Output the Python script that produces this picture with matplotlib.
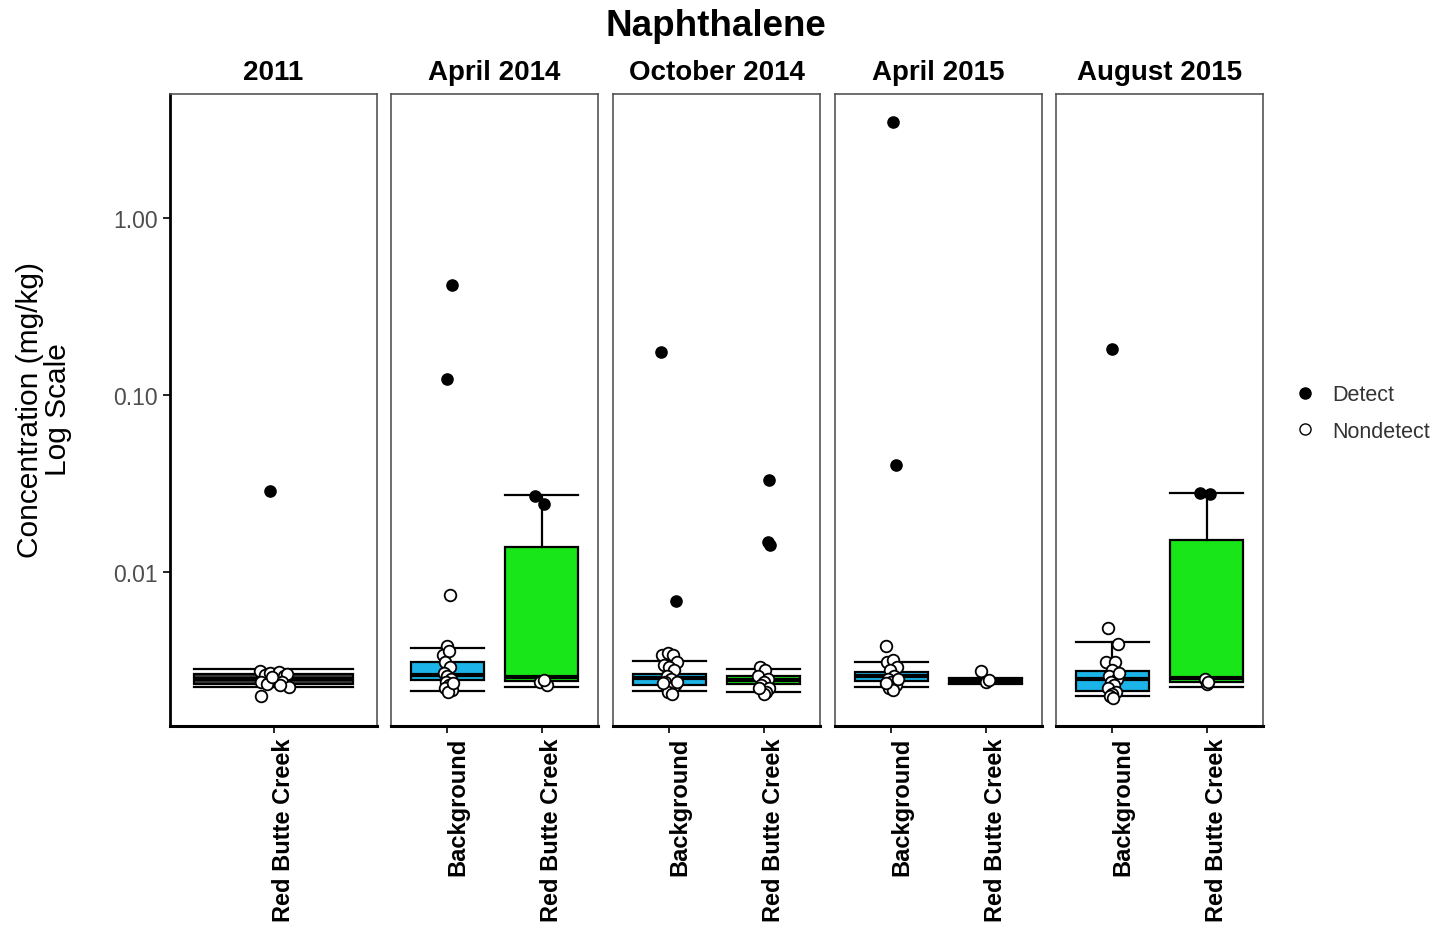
import numpy as np
import matplotlib
matplotlib.use('Agg')
import matplotlib.pyplot as plt
import matplotlib.transforms as mtransforms
from matplotlib.lines import Line2D

plt.rcParams['font.family'] = ['Liberation Sans', 'DejaVu Sans']

# sampling events and the groups in each
periods = ['2011', 'April 2014', 'October 2014', 'April 2015', 'August 2015']
groups = [['Red Butte Creek'],
          ['Background', 'Red Butte Creek'],
          ['Background', 'Red Butte Creek'],
          ['Background', 'Red Butte Creek'],
          ['Background', 'Red Butte Creek']]

# box stats per group: lower cap, q1, median, q3, upper cap (mg/kg)
box_stats = [
    [[0.00224, 0.00233, 0.00250, 0.00265, 0.00283]],
    [[0.00213, 0.00245, 0.00262, 0.00310, 0.00373],
     [0.00224, 0.00243, 0.00255, 0.01380, 0.02720]],
    [[0.00213, 0.00230, 0.00252, 0.00265, 0.00314],
     [0.00210, 0.00233, 0.00246, 0.00259, 0.00283]],
    [[0.00224, 0.00242, 0.00259, 0.00272, 0.00310],
     [0.00234, 0.00236, 0.00242, 0.00248, 0.00251]],
    [[0.00198, 0.00212, 0.00250, 0.00276, 0.00403],
     [0.00224, 0.00240, 0.00252, 0.01520, 0.02790]],
]
box_colors = [['#3a3a3a'],
              ['#1cb4e8', '#19e619'],
              ['#1cb4e8', '#19e619'],
              ['#1cb4e8', '#19e619'],
              ['#1cb4e8', '#19e619']]

# detected samples: (jitter offset, value)
detect = [
    [[(-0.02, 0.0287)]],
    [[(0.05, 0.418), (-0.01, 0.123)],
     [(-0.07, 0.0270), (0.03, 0.0242)]],
    [[(-0.09, 0.175), (0.07, 0.00685)],
     [(0.06, 0.0331), (0.05, 0.0148), (0.07, 0.0142)]],
    [[(0.02, 3.49), (0.05, 0.0403)],
     []],
    [[(0.0, 0.182)],
     [(-0.07, 0.0280), (0.04, 0.0275)]],
]

# nondetects (reporting limits): (jitter offset, value)
nondetect = [
    [[(-0.08, 0.00275), (-0.05, 0.00262), (-0.02, 0.00268), (0.0, 0.00250),
      (0.03, 0.00272), (0.06, 0.00260), (0.08, 0.00265), (-0.07, 0.00240),
      (-0.04, 0.00232), (0.05, 0.00238), (0.09, 0.00224), (-0.07, 0.00200),
      (0.04, 0.00230), (-0.01, 0.00255)]],
    [[(-0.01, 0.0038), (-0.05, 0.0034), (0.02, 0.0036), (-0.03, 0.0031),
      (0.03, 0.0029), (-0.04, 0.0027), (0.0, 0.0026), (0.04, 0.0025),
      (-0.02, 0.0024), (0.02, 0.0023), (-0.03, 0.0022), (0.05, 0.00215),
      (0.01, 0.0021), (0.06, 0.00235), (0.03, 0.0074)],
     [(-0.02, 0.0024), (0.06, 0.0023), (0.03, 0.00245)]],
    [[(-0.08, 0.0034), (-0.02, 0.0035), (0.04, 0.0034), (0.08, 0.0031),
      (-0.06, 0.0030), (0.0, 0.0029), (0.05, 0.0028), (-0.03, 0.0026),
      (0.02, 0.0025), (-0.05, 0.0024), (0.06, 0.0023), (0.0, 0.0022),
      (-0.02, 0.0021), (0.03, 0.00205), (-0.07, 0.00235), (0.08, 0.0024)],
     [(-0.04, 0.0029), (0.02, 0.0028), (-0.06, 0.0026), (0.05, 0.0025),
      (0.0, 0.0024), (-0.03, 0.0023), (0.06, 0.0022), (0.03, 0.0021),
      (0.0, 0.00205), (-0.05, 0.0022)]],
    [[(-0.06, 0.0038), (-0.05, 0.0031), (0.02, 0.0032), (0.06, 0.0029),
      (-0.02, 0.0028), (0.03, 0.0026), (-0.04, 0.0025), (0.0, 0.0024),
      (0.05, 0.0023), (-0.03, 0.0022), (0.02, 0.00215), (-0.06, 0.00235),
      (0.07, 0.0025)],
     [(-0.05, 0.00276), (0.0, 0.0024), (0.04, 0.00245)]],
    [[(-0.05, 0.0048), (0.06, 0.0039), (-0.07, 0.0031), (0.03, 0.0031),
      (0.0, 0.0028), (-0.04, 0.0026), (0.05, 0.0025), (-0.02, 0.0024),
      (0.02, 0.0023), (-0.05, 0.0022), (0.04, 0.0021), (0.0, 0.00205),
      (-0.03, 0.0020), (0.01, 0.00195), (0.07, 0.0027)],
     [(-0.02, 0.0025), (0.0, 0.00232), (0.02, 0.0024)]],
]

W, H = 1441, 928
fig = plt.figure(figsize=(W / 100, H / 100), dpi=100)

panel_left = [170, 391, 613, 835, 1056]
panel_w = 207
top_px, bot_px = 95, 727
# ggplot puts the rotated labels a little right of the tick
shift = mtransforms.ScaledTranslation(10 / 100, 0, fig.dpi_scale_trans)

for i, period in enumerate(periods):
    ax = fig.add_axes([panel_left[i] / W, 1 - bot_px / H,
                       panel_w / W, (bot_px - top_px) / H])
    cats = groups[i]
    n = len(cats)
    pos = np.arange(1, n + 1)
    bw = 0.92 if n == 1 else 0.77

    stats = []
    for s in box_stats[i]:
        stats.append(dict(whislo=s[0], q1=s[1], med=s[2], q3=s[3], whishi=s[4], fliers=[]))
    bp = ax.bxp(stats, positions=pos, widths=bw, capwidths=bw,
                patch_artist=True, showfliers=False,
                boxprops=dict(edgecolor='black', linewidth=1.6),
                medianprops=dict(color='black', linewidth=3.0),
                whiskerprops=dict(color='black', linewidth=1.6),
                capprops=dict(color='black', linewidth=1.6))
    for patch, c in zip(bp['boxes'], box_colors[i]):
        patch.set_facecolor(c)

    for j in range(n):
        if nondetect[i][j]:
            xo, v = zip(*nondetect[i][j])
            ax.scatter(pos[j] + np.array(xo), v, s=70, facecolors='white',
                       edgecolors='black', linewidths=1.3, zorder=4)
        if detect[i][j]:
            xo, v = zip(*detect[i][j])
            ax.scatter(pos[j] + np.array(xo), v, s=65, color='black', zorder=5)

    ax.set_yscale('log')
    ax.set_ylim(10 ** -2.87, 10 ** 0.70)
    ax.set_xlim(0.4, n + 0.6)
    ax.set_xticks(pos)
    ax.set_xticklabels(cats, rotation=90, fontsize=17, fontweight='bold')
    ax.tick_params(axis='x', length=5, width=1.2, color='black', pad=3)
    for lab in ax.get_xticklabels():
        lab.set_transform(lab.get_transform() + shift)
    ax.minorticks_off()
    if i == 0:
        ax.set_yticks([0.01, 0.1, 1.0])
        ax.set_yticklabels(['0.01', '0.10', '1.00'], fontsize=16.5, color='#4d4d4d')
        ax.tick_params(axis='y', length=5, width=1.2, color='black')
        ax.spines['left'].set_color('black')
        ax.spines['left'].set_linewidth(2.0)
    else:
        ax.set_yticks([])
        ax.spines['left'].set_color('#555555')
        ax.spines['left'].set_linewidth(1.2)
    ax.spines['bottom'].set_color('black')
    ax.spines['bottom'].set_linewidth(2.2)
    for sp in ['top', 'right']:
        ax.spines[sp].set_color('#555555')
        ax.spines[sp].set_linewidth(1.2)

    ax.text(0.5, 1 + 22 / (bot_px - top_px), period, transform=ax.transAxes,
            ha='center', va='center', fontsize=20, fontweight='bold')

fig.text(716 / W, 1 - 27 / H, 'Naphthalene', ha='center', va='center',
         fontsize=26.5, fontweight='bold')
fig.text(44 / W, 1 - 410 / H, 'Concentration (mg/kg)\nLog Scale', rotation=90,
         ha='center', va='center', multialignment='center', fontsize=21.5,
         linespacing=1.0)

handles = [Line2D([], [], marker='o', linestyle='none', color='black',
                  markersize=8, label='Detect'),
           Line2D([], [], marker='o', linestyle='none', markerfacecolor='white',
                  markeredgecolor='black', markersize=8, label='Nondetect')]
fig.legend(handles=handles, loc='center left',
           bbox_to_anchor=(1296 / W, 1 - 414 / H), frameon=False,
           fontsize=15.5, handlelength=0.8, handletextpad=0.9,
           labelspacing=0.7, borderaxespad=0, borderpad=0,
           labelcolor='#333333')

fig.savefig('out.png', dpi=100)
